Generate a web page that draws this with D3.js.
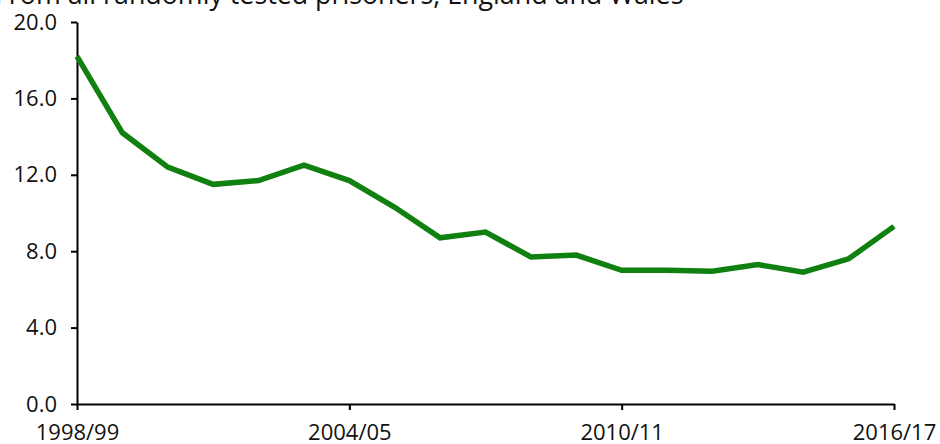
<!DOCTYPE html>
<html>
<head>
<meta charset="utf-8">
<script src="https://cdn.jsdelivr.net/npm/d3@7"></script>
<style>
  html, body { margin: 0; padding: 0; background: #fff; }
  svg { display: block; font-family: "Open Sans", sans-serif; }
</style>
</head>
<body>
<div id="chart"></div>
<script>
// data
const years = ['1998/99', '1999/00', '2000/01', '2001/02', '2002/03', '2003/04', '2004/05',
    '2005/06', '2006/07', '2007/08', '2008/09', '2009/10', '2010/11', '2011/12',
    '2012/13', '2013/14', '2014/15', '2015/16', '2016/17'];
const positiveRate = [18.2, 14.2, 12.4, 11.5, 11.7, 12.5, 11.7, 10.3, 8.7, 9.0,
    7.7, 7.8, 7.0, 7.0, 6.95, 7.3, 6.9, 7.6, 9.3];
const yTicks = [0, 4, 8, 12, 16, 20];
const xTickLabels = ['1998/99', '2004/05', '2010/11', '2016/17'];
const subtitle = 'From all randomly tested prisoners, England and Wales';

const width = 940, height = 444;
const margin = { top: 22, right: 46, bottom: 40, left: 77 };

const svg = d3.select('#chart').append('svg')
    .attr('width', width)
    .attr('height', height);

// subtitle, clipped at the top like the original
svg.append('text')
    .attr('x', -5)
    .attr('y', 4)
    .attr('font-size', 26.8)
    .attr('fill', '#111')
    .text(subtitle);

const x = d3.scalePoint()
    .domain(years)
    .range([margin.left, width - margin.right]);

const y = d3.scaleLinear()
    .domain([0, 20])
    .range([height - margin.bottom, margin.top]);

// y axis
const yAxis = svg.append('g')
    .attr('transform', `translate(${margin.left},0)`)
    .call(d3.axisLeft(y).tickValues(yTicks).tickFormat(d3.format('.1f')).tickSize(6).tickPadding(14).tickSizeOuter(0));

// x axis
const xAxis = svg.append('g')
    .attr('transform', `translate(0,${height - margin.bottom})`)
    .call(d3.axisBottom(x).tickValues(xTickLabels).tickSize(6).tickPadding(14).tickSizeOuter(0));

[yAxis, xAxis].forEach(ax => {
    ax.select('.domain').attr('stroke', '#000').attr('stroke-width', 2);
    ax.selectAll('.tick line').attr('stroke', '#000').attr('stroke-width', 2);
    ax.selectAll('.tick text')
        .attr('font-size', 22)
        .attr('font-family', '"Open Sans", sans-serif')
        .attr('fill', '#111');
});

// the line
const line = d3.line()
    .x((d, i) => x(years[i]))
    .y(d => y(d));

svg.append('path')
    .datum(positiveRate)
    .attr('fill', 'none')
    .attr('stroke', '#108010')
    .attr('stroke-width', 5.5)
    .attr('stroke-linejoin', 'miter')
    .attr('d', line);
</script>
</body>
</html>
